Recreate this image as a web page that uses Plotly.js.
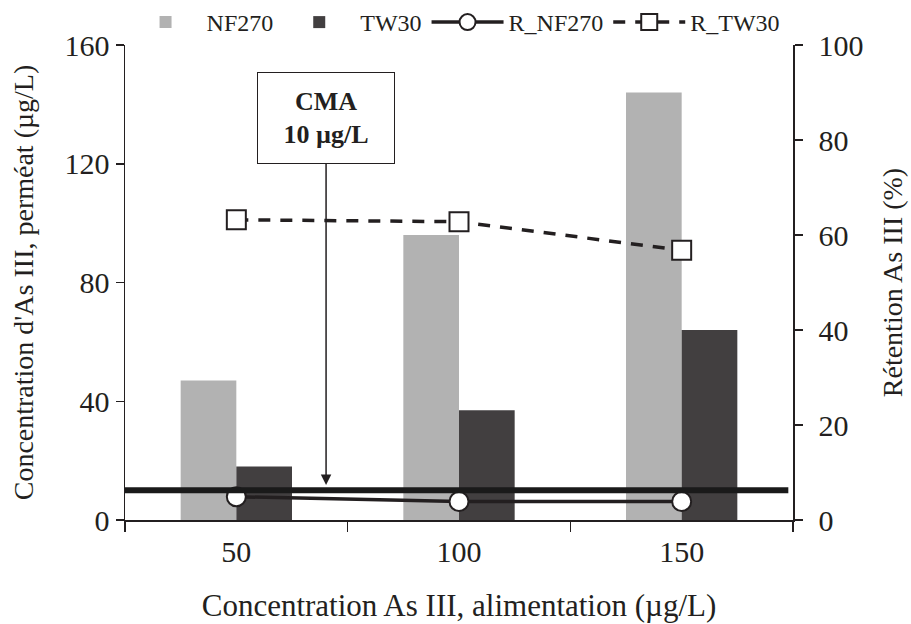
<!DOCTYPE html>
<html>
<head>
<meta charset="utf-8">
<script src="https://cdn.plot.ly/plotly-3.0.1.min.js"></script>
<style>html,body{margin:0;padding:0;background:#fff;}#chart{width:911px;height:624px;}</style>
</head>
<body>
<div id="chart"></div>
<script>
const categories = ['50', '100', '150'];
const nf270 = [47, 96, 144];
const tw30 = [18, 37, 64];
const rNf270 = [4.9, 3.9, 3.9];
const rTw30 = [63.2, 62.8, 56.8];
const cmaLimit = 10;
const cmaLabel = '<b>CMA</b><br><b>10 µg/L</b>';

const FONT = 'Liberation Serif, Times New Roman, serif';
const INK = '#231f20';

const traces = [
  {type: 'bar', name: 'NF270', x: categories, y: nf270, marker: {color: '#b2b2b2'}, xaxis: 'x', yaxis: 'y'},
  {type: 'bar', name: 'TW30', x: categories, y: tw30, marker: {color: '#423f40'}, xaxis: 'x', yaxis: 'y'},
  {type: 'scatter', mode: 'lines+markers', name: 'R_NF270', x: categories, y: rNf270, yaxis: 'y2',
   line: {color: INK, width: 3.5},
   marker: {symbol: 'circle', size: 19, color: '#ffffff', line: {color: INK, width: 2}}},
  {type: 'scatter', mode: 'lines+markers', name: 'R_TW30', x: categories, y: rTw30, yaxis: 'y2',
   line: {color: INK, width: 3.5, dash: '12px,10px'},
   marker: {symbol: 'square', size: 19, color: '#ffffff', line: {color: INK, width: 2}}}
];

const layout = {
  width: 911, height: 624,
  margin: {l: 125, r: 118, t: 45, b: 104},
  paper_bgcolor: '#ffffff', plot_bgcolor: '#ffffff',
  font: {family: FONT, size: 28, color: INK},
  barmode: 'group', bargap: 0.5, bargroupgap: 0,
  showlegend: true,
  legend: {orientation: 'h', xref: 'container', yref: 'container', x: 0.4995, xanchor: 'center', y: 1, yanchor: 'top',
           font: {family: FONT, size: 24, color: INK}, itemwidth: 72, tracegroupgap: 0,
           bgcolor: 'rgba(0,0,0,0)'},
  xaxis: {type: 'category', range: [-0.5, 2.5], tickson: 'boundaries', ticks: 'outside', ticklen: 10,
          tickcolor: INK, tickwidth: 1.5, showline: true, linecolor: INK, linewidth: 1.5,
          showgrid: false, zeroline: false, tickfont: {size: 30}, ticklabelstandoff: 4,
          title: {text: 'Concentration As III, alimentation (µg/L)', font: {size: 31}, standoff: 28}},
  yaxis: {range: [0, 160], dtick: 40, ticks: 'outside', ticklen: 8, tickcolor: INK, tickwidth: 1.5,
          showline: true, linecolor: INK, linewidth: 1.5, showgrid: false, zeroline: false,
          tickfont: {size: 30},
          title: {text: "Concentration d'As III, perméat (µg/L)", font: {size: 28}, standoff: 22}},
  yaxis2: {overlaying: 'y', side: 'right', range: [0, 100], dtick: 20, ticks: 'outside', ticklen: 8,
           tickcolor: INK, tickwidth: 1.5, showline: true, linecolor: INK, linewidth: 1.5,
           showgrid: false, zeroline: false, tickfont: {size: 30}, ticklabelstandoff: 10,
           title: {text: 'Rétention As III (%)', font: {size: 28}, standoff: 20}},
  shapes: [
    {type: 'line', xref: 'paper', yref: 'y', x0: 0, x1: 0.993, y0: cmaLimit, y1: cmaLimit,
     line: {color: '#1a1a1a', width: 6}, layer: 'above'}
  ],
  annotations: [
    {xref: 'paper', yref: 'y', x: 0.301, y: cmaLimit + 1.8, text: cmaLabel, showarrow: true,
     axref: 'pixel', ayref: 'pixel', ax: 0, ay: -367,
     arrowhead: 2, arrowsize: 1.4, arrowwidth: 1.5, arrowcolor: INK, standoff: 0,
     font: {family: FONT, size: 26, color: INK}, align: 'center',
     bgcolor: '#ffffff', bordercolor: INK, borderwidth: 1, borderpad: 4, width: 128, height: 82}
  ]
};

Plotly.newPlot('chart', traces, layout, {staticPlot: true, displayModeBar: false});
</script>
</body>
</html>
